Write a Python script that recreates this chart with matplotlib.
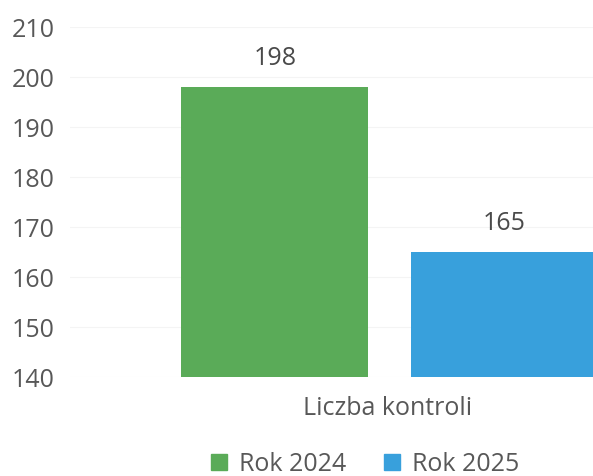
import matplotlib
matplotlib.use('Agg')
import matplotlib.pyplot as plt
from matplotlib.lines import Line2D

plt.rcParams['font.family'] = ['Open Sans', 'DejaVu Sans']

category = 'Liczba kontroli'
series = ['Rok 2024', 'Rok 2025']
values = [198, 165]
colors = ['#5aab58', '#38a0dc']
yticks = [140, 150, 160, 170, 180, 190, 200, 210]

fig = plt.figure(figsize=(5.93, 4.77), dpi=100)
# axes run past the right edge: the reference is a cropped scan
ax = fig.add_axes([70 / 593, 1 - 378 / 477, 636 / 593, 350 / 477])

offsets = [-0.178, 0.183]
width = 0.294
for off, v, c in zip(offsets, values, colors):
    ax.bar(off, v - 140, bottom=140, width=width, color=c, zorder=2)
    ax.text(off, v + 3.4, str(v), ha='center', va='bottom',
            fontsize=18, color='#4a4a4a')

ax.set_xlim(-0.5, 0.5)
ax.set_ylim(140, 210)
ax.set_yticks(yticks)
ax.set_xticks([0])
ax.set_xticklabels([category])
ax.tick_params(axis='y', length=0, pad=11, labelsize=18, labelcolor='#585858')
ax.tick_params(axis='x', length=0, pad=13, labelsize=18, labelcolor='#585858')
ax.grid(axis='y', color='#f4f4f4', lw=0.8, zorder=0)
for s in ax.spines.values():
    s.set_visible(False)

handles = [Line2D([], [], marker='s', ls='', markersize=11, color=c) for c in colors]
fig.legend(handles, series, loc='center', bbox_to_anchor=(364 / 593, 1 - 465 / 477),
           ncol=2, frameon=False, fontsize=18, handlelength=0.8, handletextpad=0.4,
           columnspacing=1.4, labelcolor='#585858', borderpad=0)

fig.savefig('out.png', dpi=100)
